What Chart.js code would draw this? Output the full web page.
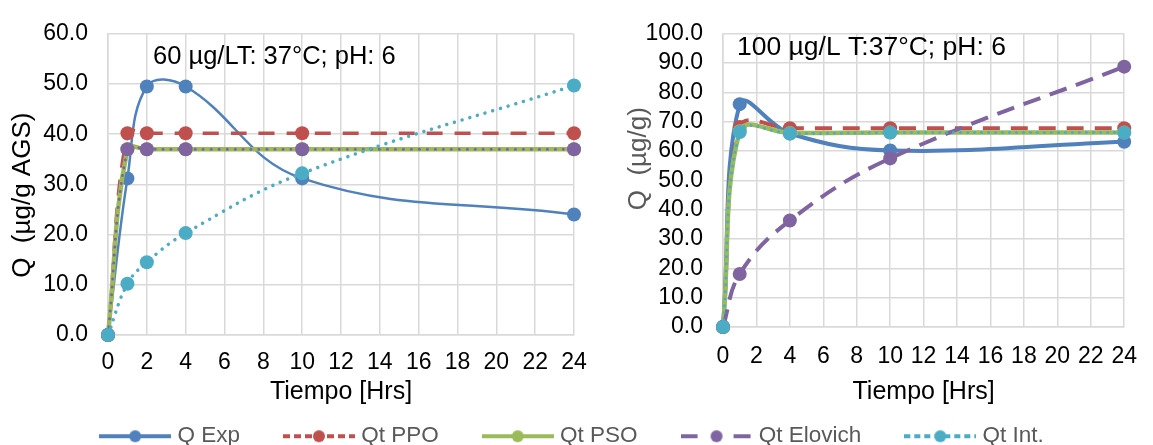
<!DOCTYPE html>
<html><head><meta charset="utf-8">
<script src="https://cdn.jsdelivr.net/npm/chart.js@4.4.1/dist/chart.umd.min.js"></script>
<style>
html,body{margin:0;padding:0;background:#fff;width:1153px;height:445px;overflow:hidden;position:relative}
canvas{position:absolute;display:block}
</style></head><body>
<canvas id="c1" width="620" height="410" style="left:0;top:0"></canvas>
<canvas id="c2" width="533" height="410" style="left:620px;top:0"></canvas>
<canvas id="cl" width="1153" height="130" style="left:0;top:377px"></canvas>
<script>
// ---- data ----
const seriesNames = ['Q Exp', 'Qt PPO', 'Qt PSO', 'Qt Elovich', 'Qt Int.'];
const xTitle = 'Tiempo [Hrs]';

// 60 µg/L chart
const note60 = '60 µg/LT: 37°C; pH: 6';
const yTitle60 = 'Q  (µg/g AGS)';
const time60 = [0, 1, 2, 4, 10, 24];
const qExp60 = [0, 31.2, 49.5, 49.5, 31.2, 24.0];
const ppo60 = [0, 40.2, 40.2, 40.2, 40.2, 40.2];
const pso60 = [0, 37.0, 37.0, 37.0, 37.0, 37.0];
const elov60 = [0, 37.0, 37.0, 37.0, 37.0, 37.0];
const int60 = [0, 10.2, 14.5, 20.3, 32.2, 49.7];

// 100 µg/L chart
const note100 = '100 µg/L T:37°C; pH: 6';
const yTitle100 = 'Q  (µg/g)';
const time100 = [0, 1, 4, 10, 24];
const qExp100 = [0, 76.0, 66.0, 60.2, 63.2];
const ppo100 = [0, 68.2, 67.8, 67.8, 67.8];
const pso100 = [0, 66.8, 66.2, 66.3, 66.3];
const elov100 = [0, 18.1, 36.3, 57.5, 88.8];
const int100 = [0, 66.5, 66.0, 66.3, 66.3];

// ---- styling ----
const FAM = '"Liberation Sans", Arial, sans-serif';
Chart.defaults.font.family = FAM;
const COLORS = ['#4F81BD', '#C0504D', '#9BBB59', '#8064A2', '#4BACC6'];
const GRID = '#d9d9d9';

function ds(i, xs, ys, width, dash, cap) {
  return {
    label: seriesNames[i],
    data: xs.map((x, k) => ({x: x, y: ys[k]})),
    borderColor: COLORS[i], backgroundColor: COLORS[i],
    pointBackgroundColor: COLORS[i], pointBorderColor: COLORS[i],
    borderWidth: width, borderDash: dash, borderCapStyle: cap,
    pointRadius: 7, pointHoverRadius: 7, pointBorderWidth: 0,
    tension: 0.4, fill: false, order: 5 - i, clip: false
  };
}

const notePlugin = {
  id: 'note',
  afterDraw(chart, args, o) {
    const ctx = chart.ctx, a = chart.chartArea;
    ctx.save();
    ctx.font = o.size + 'px ' + FAM;
    ctx.fillStyle = '#000';
    ctx.textAlign = 'left';
    ctx.textBaseline = 'middle';
    ctx.fillText(o.text, a.left + o.dx, a.top + o.dy);
    ctx.restore();
  }
};

function opts(c) {
  return {
    responsive: false, animation: false, devicePixelRatio: 1,
    layout: {padding: {left: 0, top: c.top, right: c.right, bottom: 0}},
    plugins: {
      legend: {display: false}, tooltip: {enabled: false},
      note: {text: c.note, dx: c.ndx, dy: c.ndy, size: c.nsize}
    },
    scales: {
      x: {
        type: 'linear', min: 0, max: 24,
        ticks: {stepSize: 2, autoSkip: false, maxRotation: 0, color: '#000', font: {size: 23}, padding: c.xpad},
        grid: {color: GRID, lineWidth: 1.5, drawTicks: false},
        border: {color: GRID, width: 1.5},
        title: {display: true, text: xTitle, color: '#000', font: {size: 25}, padding: {top: 0, bottom: 3}},
        afterFit: s => { s.height = c.xh; }
      },
      y: {
        min: 0, max: c.ymax,
        ticks: {stepSize: 10, autoSkip: false, color: '#000', font: {size: 23}, padding: 20, callback: v => Number(v).toFixed(1)},
        grid: {color: GRID, lineWidth: 1.5, drawTicks: false},
        border: {color: GRID, width: 1.5},
        title: {display: true, text: c.ytitle, color: c.ycolor, font: {size: 26}, padding: {top: c.ytpad, bottom: 0}},
        afterFit: s => { s.width = c.yw; }
      }
    }
  };
}

new Chart(document.getElementById('c1'), {
  type: 'line',
  data: {datasets: [
    ds(0, time60, qExp60, 2.5, [], 'butt'),
    ds(1, time60, ppo60, 3.5, [16, 12], 'butt'),
    ds(2, time60, pso60, 4.5, [], 'butt'),
    ds(3, time60, elov60, 3, [0.01, 8], 'round'),
    ds(4, time60, int60, 3.5, [0.01, 8], 'round')
  ]},
  options: opts({top: 26, right: 46, xh: 75, yw: 108, ymax: 60, xpad: 14,
    ytitle: yTitle60 + '   ', ycolor: '#000', ytpad: 7,
    note: note60, ndx: 45, ndy: 23, nsize: 25.5}),
  plugins: [notePlugin]
});

new Chart(document.getElementById('c2'), {
  type: 'line',
  data: {datasets: [
    ds(0, time100, qExp100, 4, [], 'butt'),
    ds(1, time100, ppo100, 4, [17, 11], 'butt'),
    ds(2, time100, pso100, 4.5, [], 'butt'),
    ds(3, time100, elov100, 4, [18, 10], 'butt'),
    ds(4, time100, int100, 3, [0.01, 7], 'round')
  ]},
  options: opts({top: 23, right: 20, xh: 83, yw: 103, ymax: 100, xpad: 16,
    ytitle: '      ' + yTitle100, ycolor: '#595959', ytpad: 3,
    note: note100, ndx: 14, ndy: 14, nsize: 26.5}),
  plugins: [notePlugin]
});

// legend icons (line + marker)
const iconDash = [[], [7, 4], [], [17, 36], [6, 4]];
const legendIcons = COLORS.map((col, i) => {
  const cv = document.createElement('canvas');
  cv.width = 72; cv.height = 20;
  const g = cv.getContext('2d');
  g.strokeStyle = col; g.lineWidth = 4;
  g.setLineDash(iconDash[i]);
  g.beginPath(); g.moveTo(0, 10); g.lineTo(72, 10); g.stroke();
  g.setLineDash([]);
  g.fillStyle = col;
  g.beginPath(); g.arc(36, 10, 6, 0, Math.PI * 2); g.fill();
  return cv;
});

new Chart(document.getElementById('cl'), {
  type: 'line',
  data: {datasets: seriesNames.map((n, i) => ({label: n, data: [], borderColor: COLORS[i], backgroundColor: COLORS[i]}))},
  options: {
    responsive: false, animation: false, devicePixelRatio: 1,
    layout: {padding: {left: 14, right: 19}},
    scales: {x: {display: false}, y: {display: false}},
    plugins: {
      tooltip: {enabled: false},
      legend: {
        display: true, position: 'top', maxHeight: 130,
        labels: {
          usePointStyle: true, pointStyleWidth: 62, padding: 48,
          color: '#595959', font: {size: 22.5},
          generateLabels: chart => chart.data.datasets.map((d, i) => ({
            text: d.label, pointStyle: legendIcons[i], fillStyle: d.borderColor,
            strokeStyle: d.borderColor, lineWidth: 0, hidden: false, datasetIndex: i, fontColor: '#595959'
          }))
        }
      }
    }
  }
});
</script>
</body></html>
